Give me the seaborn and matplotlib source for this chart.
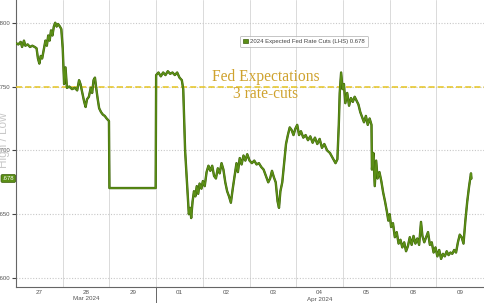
import matplotlib
matplotlib.use("Agg")
import matplotlib.pyplot as plt
import matplotlib.transforms as mtransforms
import matplotlib.patheffects as pe
from matplotlib.patches import Patch
import seaborn as sns
import pandas as pd

# ---------------- data ----------------
day_labels = ["27", "28", "29", "01", "02", "03", "04", "05", "08", "09"]
month_labels = ["Mar 2024", "Apr 2024"]
month_label_day = [1, 6]          # index of the day under which the month label sits
month_break_day = 3               # first trading day of April
y_ticks = [0.600, 0.650, 0.700, 0.750, 0.800]
y_tick_labels = [".600", ".650", ".700", ".750", ".800"]   # as visible (cropped) in the reference
fed_expectation = 0.750
last_value = 0.678
last_value_tag = ".678"
series_label = "2024 Expected Fed Rate Cuts (LHS) 0.678"

# position in trading days (0 = start of Mar 27) and value
pos = [0.00, 0.05, 0.10, 0.13, 0.17, 0.20, 0.25, 0.30, 0.35, 0.40, 0.44, 0.47, 0.50, 0.53,
       0.56, 0.60, 0.63, 0.66, 0.69, 0.72, 0.75, 0.78, 0.81, 0.84, 0.87, 0.90, 0.94, 0.97,
       1.00, 1.03, 1.06, 1.09, 1.14, 1.20, 1.26, 1.31, 1.35, 1.38, 1.42, 1.46, 1.49, 1.52,
       1.56, 1.60, 1.63, 1.66, 1.69, 1.72, 1.75, 1.78, 1.82, 1.86, 1.90, 1.94, 1.99,
       2.00, 2.99,
       3.00, 3.05, 3.10, 3.15, 3.20, 3.25, 3.30, 3.35, 3.40, 3.45, 3.50, 3.55, 3.58, 3.62,
       3.66, 3.70, 3.73, 3.75, 3.78, 3.81, 3.84, 3.87, 3.90, 3.93, 3.97,
       4.00, 4.04, 4.08, 4.12, 4.16, 4.20, 4.24, 4.28, 4.32, 4.36, 4.40, 4.44, 4.48, 4.52,
       4.56, 4.60, 4.64, 4.68, 4.72, 4.75, 4.79, 4.83, 4.87, 4.91, 4.95,
       5.00, 5.05, 5.10, 5.15, 5.20, 5.25, 5.30, 5.35, 5.40, 5.44, 5.48, 5.52, 5.56, 5.60,
       5.63, 5.66, 5.70, 5.74, 5.78, 5.82, 5.86, 5.90, 5.94, 5.98,
       6.02, 6.06, 6.10, 6.15, 6.20, 6.25, 6.30, 6.35, 6.40, 6.45, 6.50, 6.55, 6.60, 6.66,
       6.72, 6.78, 6.84, 6.88, 6.91, 6.93, 6.96, 6.99,
       7.02, 7.05, 7.09, 7.13, 7.17, 7.21, 7.25, 7.29, 7.33, 7.37, 7.41, 7.45, 7.49, 7.53,
       7.57, 7.61, 7.62, 7.65, 7.68, 7.71, 7.74, 7.78, 7.82, 7.86, 7.90, 7.94, 7.97,
       8.00, 8.03, 8.07, 8.11, 8.15, 8.19, 8.23, 8.27, 8.31, 8.35, 8.39, 8.43, 8.47, 8.51,
       8.55, 8.59, 8.63, 8.67, 8.70, 8.74, 8.78, 8.82, 8.86, 8.90, 8.94,
       8.98, 9.02, 9.06, 9.10, 9.14, 9.18, 9.22, 9.26, 9.30, 9.34, 9.38, 9.42, 9.46, 9.50,
       9.54, 9.58, 9.62, 9.66, 9.70, 9.74, 9.75]
cuts = [0.784, 0.783, 0.785, 0.781, 0.786, 0.782, 0.783, 0.781, 0.782, 0.781, 0.780, 0.772, 0.768, 0.774,
        0.772, 0.780, 0.786, 0.782, 0.790, 0.786, 0.794, 0.790, 0.797, 0.800, 0.797, 0.799, 0.797, 0.795,
        0.780, 0.752, 0.765, 0.749, 0.750, 0.748, 0.749, 0.747, 0.755, 0.752, 0.745, 0.738, 0.734, 0.740,
        0.742, 0.749, 0.745, 0.755, 0.757, 0.748, 0.740, 0.733, 0.730, 0.728, 0.727, 0.725, 0.723,
        0.6705, 0.6705,
        0.759, 0.761, 0.758, 0.761, 0.759, 0.762, 0.760, 0.761, 0.759, 0.761, 0.757, 0.755, 0.748, 0.700,
        0.675, 0.650, 0.655, 0.647, 0.660, 0.668, 0.664, 0.672, 0.666, 0.674, 0.670,
        0.676, 0.672, 0.683, 0.688, 0.684, 0.688, 0.680, 0.678, 0.686, 0.682, 0.690, 0.685, 0.675, 0.668,
        0.664, 0.659, 0.670, 0.680, 0.690, 0.683, 0.694, 0.689, 0.696, 0.692, 0.697,
        0.692, 0.690, 0.692, 0.689, 0.690, 0.687, 0.685, 0.680, 0.675, 0.678, 0.684, 0.679, 0.675, 0.660,
        0.655, 0.668, 0.675, 0.690, 0.705, 0.712, 0.718, 0.716, 0.712, 0.717,
        0.720, 0.712, 0.715, 0.710, 0.712, 0.708, 0.711, 0.706, 0.710, 0.705, 0.709, 0.702, 0.705, 0.700,
        0.698, 0.694, 0.690, 0.693, 0.720, 0.745, 0.761, 0.748,
        0.752, 0.737, 0.745, 0.735, 0.741, 0.738, 0.742, 0.739, 0.736, 0.730, 0.726, 0.722, 0.727, 0.720,
        0.725, 0.720, 0.685, 0.698, 0.672, 0.692, 0.678, 0.683, 0.676, 0.667, 0.660, 0.652, 0.645,
        0.650, 0.640, 0.643, 0.632, 0.636, 0.627, 0.630, 0.624, 0.628, 0.621, 0.625, 0.632, 0.626, 0.633,
        0.627, 0.631, 0.626, 0.644, 0.633, 0.628, 0.632, 0.636, 0.626, 0.628, 0.620,
        0.624, 0.617, 0.622, 0.615, 0.619, 0.617, 0.621, 0.618, 0.620, 0.619, 0.622, 0.620, 0.628, 0.634,
        0.632, 0.627, 0.645, 0.660, 0.672, 0.682, 0.678]

df = pd.DataFrame({"pos": pos, "cuts": cuts})

# ---------------- style ----------------
sns.set_theme(style="white")
plt.rcParams["font.family"] = ["Liberation Sans", "DejaVu Sans"]

GREEN = "#5b8f16"
DARK_GREEN = "#3b5e0a"
GOLD = "#cfa22e"
YELLOW = "#e5c420"
GRID = "#dadada"
TXT = "#555555"

fig = plt.figure(figsize=(4.85, 3.03), dpi=100)
ax = fig.add_axes([16 / 485, 16 / 303, 1 - 16 / 485, 1 - 16 / 303])

sns.lineplot(data=df, x="pos", y="cuts", ax=ax, estimator=None, sort=False,
             color=GREEN, linewidth=1.1, zorder=5,
             path_effects=[pe.Stroke(linewidth=1.7, foreground=DARK_GREEN), pe.Normal()])

ax.set_xlim(0, 10.04)
ax.set_ylim(0.593, 0.8178)

# grid
for d in range(1, len(day_labels)):
    ax.axvline(d, color=GRID, lw=0.7, zorder=1)
for yt in y_ticks:
    ax.axhline(yt, color="#c8c8c8", lw=0.8, ls=(0, (1, 1.5)), zorder=1)
ax.axhline(fed_expectation, color=YELLOW, lw=1.1, ls=(0, (4, 2)), zorder=3)

# ticks
ax.set_yticks(y_ticks)
ax.set_yticklabels(y_tick_labels)
ax.tick_params(axis="y", which="major", length=3, width=0.8, color="#444444",
               direction="out", pad=1, labelsize=4.3, labelcolor=TXT, left=True)
ax.set_xticks([d + 0.5 for d in range(len(day_labels))])
ax.set_xticklabels(day_labels)
ax.tick_params(axis="x", which="major", length=0, pad=2, labelsize=4.5, labelcolor=TXT)
ax.set_xlabel("")
ax.set_ylabel("")

for s in ["top", "right"]:
    ax.spines[s].set_visible(False)
for s in ["left", "bottom"]:
    ax.spines[s].set_color("#666666")
    ax.spines[s].set_linewidth(0.8)

# month labels and break
trans = mtransforms.blended_transform_factory(ax.transData, ax.transAxes)
for lab, d in zip(month_labels, month_label_day):
    ax.text(d + 0.5, -12 / 287, lab, transform=trans, ha="center", va="center",
            fontsize=4.5, color=TXT)
ax.axvline(month_break_day, ymin=-16 / 287, ymax=0, clip_on=False, color="#666666", lw=0.7)

# annotation
ax.text(0.533, 0.730, "Fed Expectations", transform=ax.transAxes, ha="center", va="center",
        fontsize=11.2, color=GOLD, family="Liberation Serif", zorder=6)
ax.text(0.533, 0.674, "3 rate-cuts", transform=ax.transAxes, ha="center", va="center",
        fontsize=11.2, color=GOLD, family="Liberation Serif", zorder=6)

# left vertical label
fig.text(4 / 485, 1 - 140 / 303, "High / Low", rotation=90, ha="center", va="center",
         fontsize=8.5, color="#c8c8c8")

# last value tag
trans_y = mtransforms.blended_transform_factory(ax.transAxes, ax.transData)
ax.text(-0.004, last_value, last_value_tag, transform=trans_y, ha="right", va="center",
        fontsize=4.3, color="white", clip_on=False, zorder=10,
        bbox=dict(boxstyle="round,pad=0.25", fc=GREEN, ec=DARK_GREEN, lw=0.5))

# legend
handle = Patch(facecolor=GREEN, edgecolor=DARK_GREEN, linewidth=0.5, label=series_label)
leg = ax.legend(handles=[handle], loc="upper left", bbox_to_anchor=(0.478, 0.875),
                fontsize=4.3, frameon=True, fancybox=True, handlelength=0.8, handleheight=0.8,
                handletextpad=0.4, borderpad=0.5, borderaxespad=0)
leg.get_frame().set_edgecolor("#aaaaaa")
leg.get_frame().set_linewidth(0.6)
for t in leg.get_texts():
    t.set_color("#444444")

fig.savefig("out.png", dpi=100)
